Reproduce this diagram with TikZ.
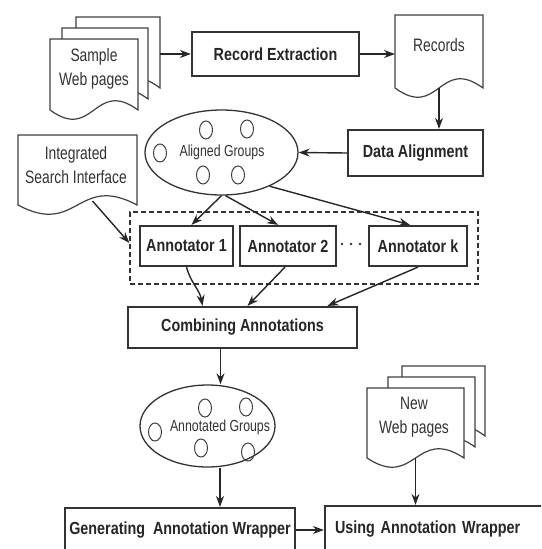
\documentclass[tikz,border=0pt]{standalone}
\usepackage{fontspec}
\setmainfont{Liberation Sans}
\newfontfamily\boxfont[FakeStretch=0.82]{Liberation Sans}
\newfontfamily\pagefont[FakeStretch=0.77]{Liberation Sans}
\usetikzlibrary{arrows.meta,shapes.geometric}

% page with a wavy lower edge: name, x, y, width, height
\newcommand{\docpage}[5]{%
  \filldraw [pageline] (#2,#3) -- (#2+#4,#3) -- (#2+#4,#3+#5)
    .. controls (#2+0.5*#4,#3+#5-32) and (#2+0.5*#4,#3+#5+32) .. (#2,#3+#5)
    -- cycle;
  \coordinate (#1-bot) at (#2+0.5*#4,#3+#5);
  \coordinate (#1-east) at (#2+#4,#3+0.5*#5);
  \coordinate (#1-west) at (#2,#3+0.5*#5);
}

\begin{document}
\begin{tikzpicture}[x=1pt,y=-1pt,
  procbox/.style={draw=black!80, line width=2.2pt, fill=white, inner sep=0pt,
    font=\boxfont\bfseries\fontsize{17.5}{19}\selectfont, text=black!85},
  pageline/.style={draw=black!75, line width=1.2pt, fill=white},
  pagetext/.style={font=\pagefont\fontsize{18}{23.5}\selectfont, align=center, text=black!80},
  group/.style={ellipse, draw=black!80, line width=1.3pt, inner sep=0pt},
  grouptext/.style={font=\pagefont\fontsize{16}{17}\selectfont, text=black!80},
  member/.style={draw=black!75, line width=1pt},
  flow/.style={draw=black!85, line width=1.4pt, -{Stealth[length=11pt,width=8pt]}}
]

\clip (0,0) rectangle (541,549);
\useasboundingbox (0,0) rectangle (541,549);

% PAGES
\docpage{sample3}{76}{17}{84}{71}
\docpage{sample2}{62}{28}{86}{71}
\docpage{sample1}{50}{39}{88}{71}
\node [pagetext] (sample) at (94,69) {Sample\\Web pages};

\docpage{records}{395}{15}{88}{73}
\node [pagetext] (recordstext) at (439,45) {Records};

\docpage{isi}{18}{135}{119}{70}
\node [pagetext] (isitext) at (76,165) {Integrated\\Search Interface};

\docpage{new3}{402}{366}{83}{70}
\docpage{new2}{388}{377}{87}{70}
\docpage{new1}{367}{388}{97}{70}
\node [pagetext] (newtext) at (414,417) {New\\Web pages};

% BOXES
\node [procbox, minimum width=167, minimum height=44] (extract) at (275.5,54) {Record Extraction};
\node [procbox, minimum width=135, minimum height=46] (align) at (415.5,153) {Data Alignment};

\node [draw=black!80, line width=1.3pt, dash pattern=on 5pt off 3pt,
  minimum width=348, minimum height=72] (annotators) at (304,248) {};
\node [procbox, minimum width=93, minimum height=40] (a1) at (186.5,246) {Annotator 1};
\node [procbox, minimum width=96, minimum height=40] (a2) at (288,246) {Annotator 2};
\node [procbox, minimum width=98, minimum height=40] (ak) at (418,246) {Annotator k};
\foreach \dx in {342,351,360}
  \fill [black!80] (\dx,244) circle (1.4);

\node [procbox, minimum width=229, minimum height=41] (comb) at (242.5,327.5) {Combining Annotations};

\node [procbox, minimum width=230, minimum height=44] (gen) at (180,530) {Generating\ \ Annotation Wrapper};
\node [procbox, text width=200pt, inner xsep=10pt, align=left, minimum height=46] (using) at (435,529) {Using Annotation Wrapper};

% GROUPS
\node [group, minimum width=153, minimum height=85] (aligned) at (221.5,152.5) {};
\node [grouptext] (alignedtext) at (222,152) {Aligned Groups};
\foreach \cx/\cy in {206/130, 247/129, 160/153, 203/175, 238/175}
  \draw [member] (\cx,\cy) ellipse [x radius=6.5, y radius=9];

\node [group, minimum width=135, minimum height=82] (annotated) at (207.5,426) {};
\node [grouptext] (annotatedtext) at (220,427) {Annotated Groups};
\foreach \cx/\cy in {205/408, 246/407, 155/432, 201/448, 248/452}
  \draw [member] (\cx,\cy) ellipse [x radius=6.5, y radius=9];

% ARROWS
\draw [flow] (extract.west -| sample3-east) -- (extract.west);
\draw [flow] (extract.east) -- (extract.east -| records-west);
\draw [flow] (records-bot) -- (records-bot |- align.north);
\draw [flow] (align.west) -- (aligned.east);

\draw [flow] ([xshift=15pt,yshift=4pt]isi-bot) -- ([yshift=5pt]annotators.west);
\draw [flow] (aligned.south) -- ([xshift=5pt]a1.north);
\draw [flow] ([xshift=4pt]aligned.south) -- ([xshift=-10pt]a2.north);
\draw [flow] (aligned.-35) -- ([xshift=-8pt]ak.north);

\draw [flow] (a1.south) to[out=-75,in=100] ([xshift=-40pt]comb.north);
\draw [flow] ([xshift=-3pt]a2.south) -- ([xshift=5pt]comb.north);
\draw [flow] (ak.south) -- ([xshift=85pt]comb.north);

\coordinate (combout) at ([xshift=-22pt]comb.south);
\draw [flow] (combout) -- (combout |- annotated.north);
\coordinate (genin) at ([xshift=40pt]gen.north);
\draw [flow] (genin |- annotated.south) -- (genin);
\draw [flow] (gen.east) -- (gen.east -| using.west);
\draw [flow] (new1-bot) -- (new1-bot |- using.north);

\end{tikzpicture}
\end{document}
